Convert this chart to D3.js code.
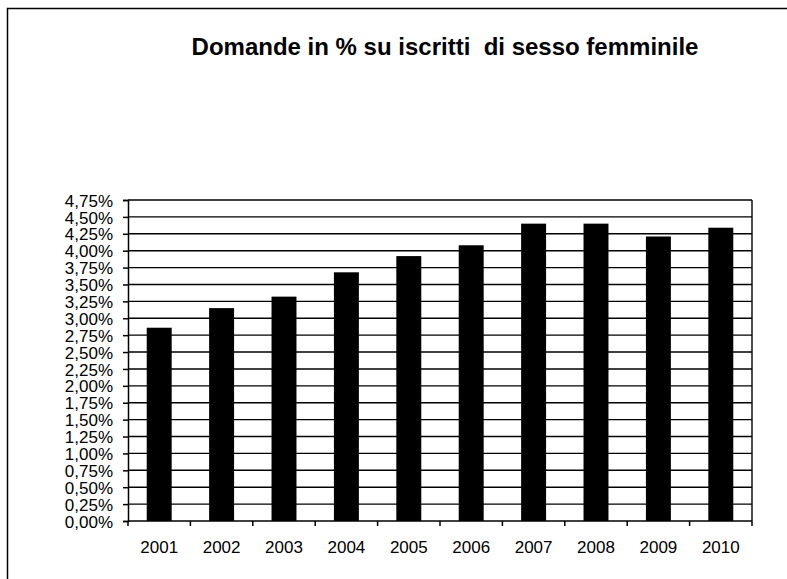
<!DOCTYPE html>
<html>
<head>
<meta charset="utf-8">
<script src="https://cdn.jsdelivr.net/npm/d3@7"></script>
<style>
  body { margin: 0; background: #fff; }
  text { font-family: "Liberation Sans", Arial, sans-serif; fill: #000; }
</style>
</head>
<body>
<svg id="chart" width="787" height="579"></svg>
<script>
// data
var years = ["2001", "2002", "2003", "2004", "2005", "2006", "2007", "2008", "2009", "2010"];
var values = [2.86, 3.15, 3.32, 3.68, 3.92, 4.08, 4.40, 4.40, 4.21, 4.34];
var yTicks = [0, 0.25, 0.5, 0.75, 1, 1.25, 1.5, 1.75, 2, 2.25, 2.5, 2.75, 3, 3.25, 3.5, 3.75, 4, 4.25, 4.5, 4.75];
var title = "Domande in % su iscritti  di sesso femminile";

var plotL = 128, plotR = 752, plotT = 200, plotB = 521;

var it = d3.formatLocale({decimal: ",", thousands: ".", grouping: [3], currency: ["", "€"]});
var fmt = it.format(".2f");

var svg = d3.select("#chart");

// outer frame (right and bottom edges fall outside the picture)
svg.append("rect")
    .attr("x", 7.5).attr("y", 8.5)
    .attr("width", 900).attr("height", 700)
    .attr("fill", "none").attr("stroke", "#000").attr("stroke-width", 1.5);

svg.append("text")
    .attr("x", 445).attr("y", 55)
    .attr("text-anchor", "middle")
    .style("font-size", "24px").style("font-weight", "bold")
    .style("white-space", "pre")
    .text(title);

var x = d3.scaleBand()
    .domain(years)
    .range([plotL, plotR])
    .paddingInner(0.6)
    .paddingOuter(0.3);

var y = d3.scaleLinear()
    .domain([0, 4.75])
    .range([plotB, plotT]);

// gridlines
svg.append("g")
  .selectAll("line")
    .data(yTicks.slice(1))
  .enter().append("line")
    .attr("x1", plotL).attr("x2", plotR)
    .attr("y1", function(d) { return y(d); })
    .attr("y2", function(d) { return y(d); })
    .attr("stroke", "#000").attr("stroke-width", 1.4);

// right edge of plot area
svg.append("line")
    .attr("x1", plotR).attr("x2", plotR)
    .attr("y1", plotT).attr("y2", plotB)
    .attr("stroke", "#000").attr("stroke-width", 1.4);

// bars
svg.append("g")
  .selectAll("rect")
    .data(values)
  .enter().append("rect")
    .attr("x", function(d, i) { return x(years[i]); })
    .attr("y", function(d) { return y(d); })
    .attr("width", x.bandwidth())
    .attr("height", function(d) { return plotB - y(d); })
    .attr("fill", "#000");

// y axis
var yAxis = svg.append("g")
    .attr("transform", "translate(" + plotL + ",0)")
    .call(d3.axisLeft(y).tickValues(yTicks).tickSize(5).tickPadding(10)
      .tickFormat(function(d) { return fmt(d) + "%"; }));
yAxis.select(".domain").attr("stroke", "#000").attr("stroke-width", 1.5);
yAxis.selectAll(".tick line").attr("stroke", "#000").attr("stroke-width", 1.5);
yAxis.selectAll("text").style("font-size", "17px").attr("dy", "0.36em");

// x axis: labels centred, ticks on category boundaries
var xAxis = svg.append("g")
    .attr("transform", "translate(0," + plotB + ")")
    .call(d3.axisBottom(x).tickSize(0).tickPadding(20));
xAxis.select(".domain").remove();
xAxis.selectAll("text").style("font-size", "17px");

svg.append("line")
    .attr("x1", plotL).attr("x2", plotR)
    .attr("y1", plotB).attr("y2", plotB)
    .attr("stroke", "#000").attr("stroke-width", 1.5);

svg.append("g")
  .selectAll("line")
    .data(d3.range(years.length + 1))
  .enter().append("line")
    .attr("x1", function(i) { return plotL + i * x.step(); })
    .attr("x2", function(i) { return plotL + i * x.step(); })
    .attr("y1", plotB).attr("y2", plotB + 5)
    .attr("stroke", "#000").attr("stroke-width", 1.5);
</script>
</body>
</html>
